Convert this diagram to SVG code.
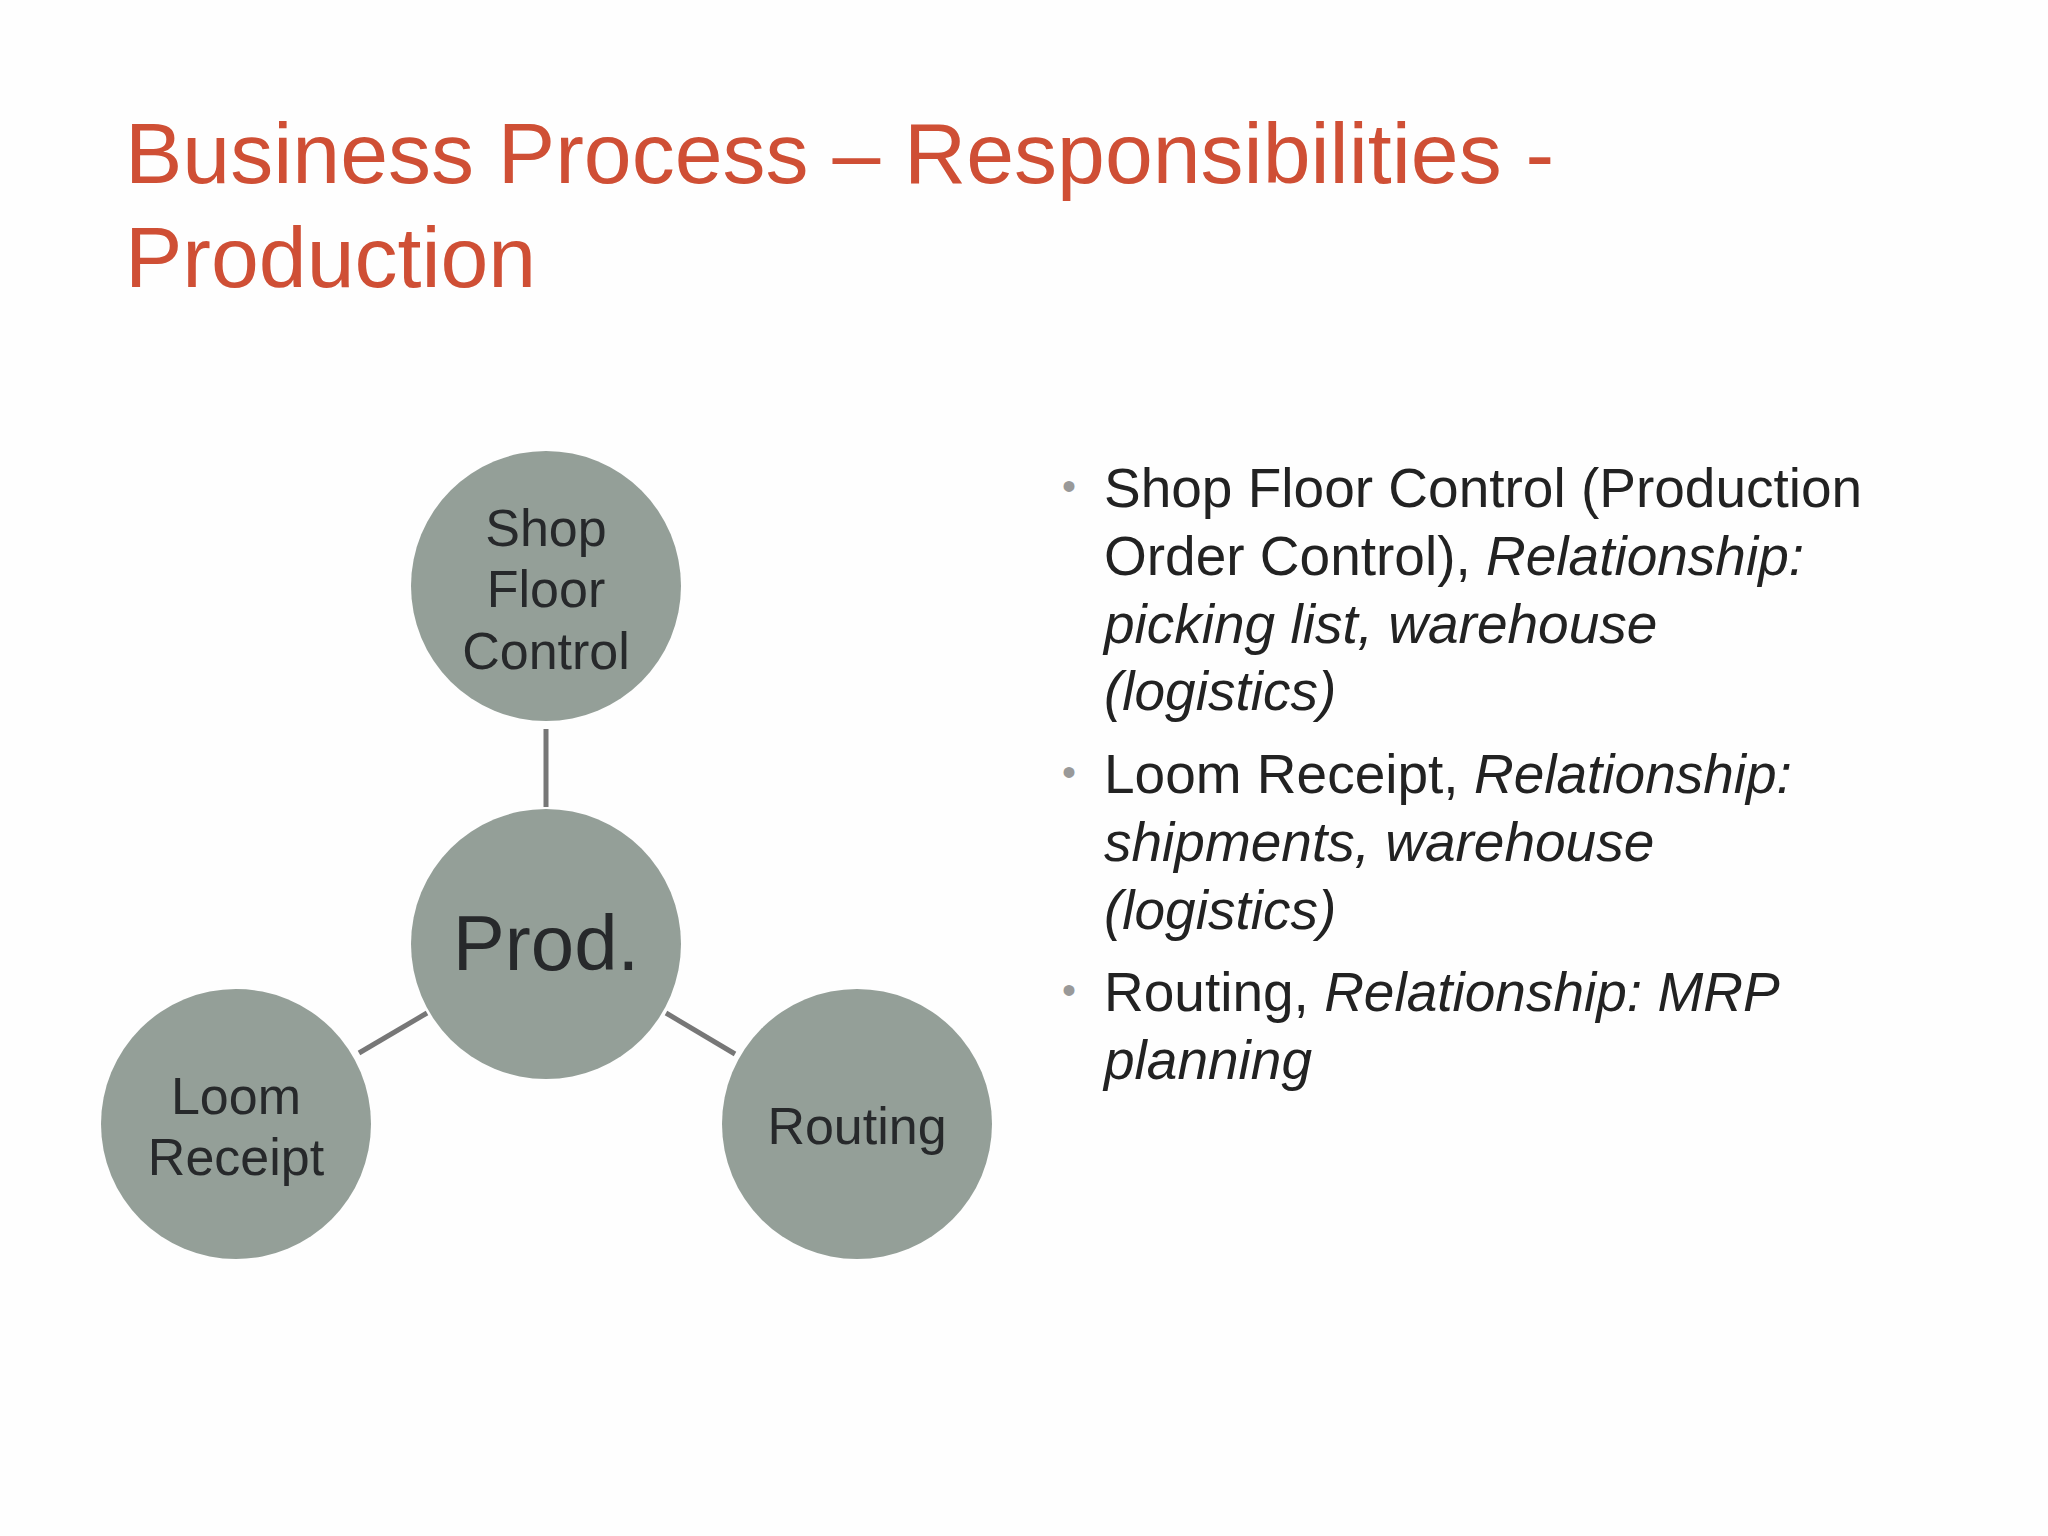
<svg xmlns="http://www.w3.org/2000/svg" width="2048" height="1536" viewBox="0 0 2048 1536">
<style>
.t{font-family:"Liberation Sans",Arial,sans-serif;fill:#cf4f35;font-size:86px}
.n{fill:#949f98}
.c{font-family:"Liberation Sans",Arial,sans-serif;fill:#27292b;font-size:52px;text-anchor:middle}
.b{font-family:"Liberation Sans",Arial,sans-serif;fill:#222;font-size:55px}
.d{fill:#999;font-size:40px;font-family:"Liberation Sans",Arial,sans-serif}
line{stroke:#777;stroke-width:5}
</style>
<rect width="2048" height="1536" fill="#fefefe"/>
<text class="t" x="125" y="183">Business Process  – Responsibilities -</text>
<text class="t" x="125" y="287">Production</text>
<g id="connectors">
<line x1="546" y1="729" x2="546" y2="807"/>
<line x1="359" y1="1053" x2="427" y2="1013"/>
<line x1="666" y1="1013" x2="735" y2="1054"/>
</g>
<g id="shop"><circle class="n" cx="546" cy="586" r="135"/>
<text class="c" x="546" y="546">Shop</text><text class="c" x="546" y="607">Floor</text><text class="c" x="546" y="669">Control</text></g>
<g id="prod"><circle class="n" cx="546" cy="944" r="135"/>
<text class="c" x="546" y="970" style="font-size:78px">Prod.</text></g>
<g id="loom"><circle class="n" cx="236" cy="1124" r="135"/>
<text class="c" x="236" y="1114">Loom</text><text class="c" x="236" y="1175">Receipt</text></g>
<g id="routing"><circle class="n" cx="857" cy="1124" r="135"/>
<text class="c" x="857" y="1144">Routing</text></g>
<g id="bullets">
<text class="d" x="1062" y="500">•</text>
<text class="b" x="1104" y="507">Shop Floor Control (Production</text>
<text class="b" x="1104" y="575">Order Control), <tspan font-style="italic">Relationship:</tspan></text>
<text class="b" x="1104" y="643" font-style="italic">picking list, warehouse</text>
<text class="b" x="1104" y="710" font-style="italic">(logistics)</text>
<text class="d" x="1062" y="786">•</text>
<text class="b" x="1104" y="793">Loom Receipt, <tspan font-style="italic">Relationship:</tspan></text>
<text class="b" x="1104" y="861" font-style="italic">shipments, warehouse</text>
<text class="b" x="1104" y="929" font-style="italic">(logistics)</text>
<text class="d" x="1062" y="1004">•</text>
<text class="b" x="1104" y="1011">Routing, <tspan font-style="italic">Relationship: MRP</tspan></text>
<text class="b" x="1104" y="1079" font-style="italic">planning</text>
</g>
</svg>
